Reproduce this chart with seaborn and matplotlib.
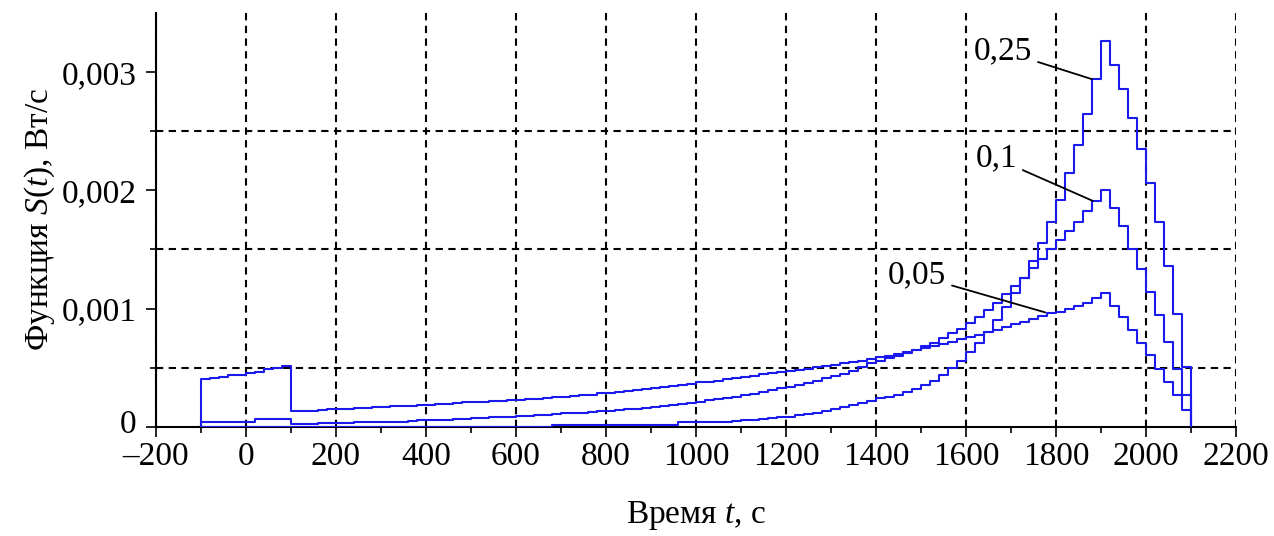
import numpy as np
import pandas as pd
import matplotlib
matplotlib.use("Agg")
import matplotlib.pyplot as plt
import matplotlib.transforms as mtransforms
import seaborn as sns
from matplotlib.ticker import FixedLocator, MultipleLocator

# ---------------- data (values in units of 0.001 W/s, 20 s bins from -100 s) ----------------
bin_start = -100
bin_width = 20

s_005 = [0.405, 0.415, 0.420, 0.435, 0.440, 0.455, 0.460, 0.487, 0.500, 0.510,
         0.133, 0.133, 0.133, 0.140, 0.150, 0.150, 0.152, 0.155, 0.160, 0.167,
         0.170, 0.172, 0.175, 0.178, 0.185, 0.187, 0.190, 0.195, 0.202, 0.205,
         0.208, 0.212, 0.218, 0.221, 0.223, 0.228, 0.232, 0.235, 0.245, 0.249,
         0.252, 0.258, 0.266, 0.270, 0.285, 0.289, 0.292, 0.300, 0.310, 0.318,
         0.326, 0.335, 0.345, 0.355, 0.365, 0.374, 0.382, 0.390, 0.400, 0.410,
         0.420, 0.430, 0.442, 0.452, 0.462, 0.473, 0.482, 0.492, 0.503, 0.514,
         0.524, 0.536, 0.548, 0.560, 0.573, 0.586, 0.600, 0.615, 0.630, 0.650,
         0.670, 0.685, 0.700, 0.720, 0.740, 0.760, 0.780, 0.800, 0.820, 0.845,
         0.870, 0.890, 0.915, 0.940, 0.958, 0.969, 0.992, 1.020, 1.048, 1.091,
         1.127, 1.020, 0.929, 0.822, 0.708, 0.609, 0.487, 0.382, 0.269, 0.142]

s_01 = [0.042, 0.042, 0.042, 0.042, 0.042, 0.042, 0.065, 0.065, 0.065, 0.065,
        0.023, 0.023, 0.023, 0.034, 0.034, 0.035, 0.035, 0.036, 0.036, 0.037,
        0.038, 0.040, 0.042, 0.045, 0.055, 0.057, 0.058, 0.060, 0.063, 0.066,
        0.070, 0.076, 0.078, 0.080, 0.085, 0.091, 0.093, 0.096, 0.100, 0.106,
        0.113, 0.116, 0.120, 0.126, 0.133, 0.136, 0.140, 0.147, 0.152, 0.158,
        0.165, 0.172, 0.180, 0.190, 0.200, 0.212, 0.222, 0.233, 0.244, 0.255,
        0.267, 0.280, 0.295, 0.310, 0.325, 0.340, 0.355, 0.372, 0.390, 0.408,
        0.425, 0.450, 0.475, 0.505, 0.535, 0.560, 0.580, 0.600, 0.620, 0.650,
        0.680, 0.710, 0.750, 0.790, 0.830, 0.880, 0.930, 0.990, 1.050, 1.120,
        1.190, 1.260, 1.340, 1.416, 1.501, 1.581, 1.657, 1.734, 1.827, 1.907,
        2.006, 1.850, 1.694, 1.507, 1.337, 1.139, 0.941, 0.714, 0.487, 0.269]

s_025 = [0.0, 0.0, 0.0, 0.0, 0.0, 0.0, 0.0, 0.0, 0.0, 0.0,
         0.0, 0.0, 0.0, 0.0, 0.0, 0.0, 0.0, 0.0, 0.0, 0.0,
         0.0, 0.0, 0.0, 0.0, 0.0, 0.0, 0.0, 0.0, 0.0, 0.0,
         0.0, 0.0, 0.0, 0.0, 0.0, 0.0, 0.0, 0.0, 0.0, 0.012,
         0.013, 0.013, 0.014, 0.014, 0.015, 0.015, 0.015, 0.016, 0.016, 0.017,
         0.017, 0.018, 0.018, 0.037, 0.037, 0.037, 0.037, 0.037, 0.037, 0.050,
         0.055, 0.060, 0.065, 0.070, 0.078, 0.085, 0.095, 0.105, 0.118, 0.132,
         0.147, 0.163, 0.180, 0.200, 0.220, 0.240, 0.255, 0.270, 0.290, 0.315,
         0.350, 0.390, 0.440, 0.500, 0.560, 0.630, 0.710, 0.800, 0.900, 1.010,
         1.130, 1.260, 1.400, 1.558, 1.728, 1.921, 2.144, 2.380, 2.646, 2.938,
         3.266, 3.059, 2.853, 2.615, 2.346, 2.062, 1.734, 1.360, 0.955, 0.507]

series_labels = ["0,05", "0,1", "0,25"]
series_values = [s_005, s_01, s_025]

x_ticks = [-200, 0, 200, 400, 600, 800, 1000, 1200, 1400, 1600, 1800, 2000, 2200]
x_tick_labels = ["\u2013200", "0", "200", "400", "600", "800", "1000", "1200",
                 "1400", "1600", "1800", "2000", "2200"]
y_ticks = [0, 0.001, 0.002, 0.003]
y_tick_labels = ["0", "0,001", "0,002", "0,003"]

# label placement (text position, leader end) in data coordinates
label_text_pos = {"0,25": (1682, 0.00318), "0,1": (1667, 0.00227), "0,05": (1491, 0.00128)}
label_point = {"0,25": (1880, 0.00294), "0,1": (1882, 0.00191), "0,05": (1776, 0.000967)}

# ---------------- build long-form table ----------------
frames = []
for name, vals in zip(series_labels, series_values):
    vals = np.asarray(vals)
    n = len(vals)
    edges = bin_start + bin_width * np.arange(n + 1)
    xs = np.concatenate([[edges[0]], edges[:-1], [edges[-1], edges[-1]]])
    ys = np.concatenate([[0.0], vals, [vals[-1], 0.0]]) * 1e-3
    frames.append(pd.DataFrame({"t": xs, "S": ys, "series": name}))
df = pd.concat(frames, ignore_index=True)

# ---------------- style ----------------
sns.set_theme(style="ticks")
plt.rcParams["font.family"] = ["Liberation Serif", "DejaVu Serif"]
plt.rcParams["mathtext.fontset"] = "custom"
plt.rcParams["mathtext.rm"] = "Liberation Serif"
plt.rcParams["mathtext.it"] = "Liberation Serif:italic"

W, H = 1274, 536
fig = plt.figure(figsize=(W / 100, H / 100), dpi=100)
ax = fig.add_axes([156 / W, (H - 426.7) / H, (1236 - 156) / W, (426.7 - 13) / H])

blue = "#1a1aee"
sns.lineplot(data=df, x="t", y="S", hue="series", palette=[blue] * 3,
             estimator=None, sort=False, drawstyle="steps-post",
             legend=False, linewidth=1.5, ax=ax, zorder=3)

ax.set_xlim(-200, 2200)
ax.set_ylim(0, 0.0035)

ax.xaxis.set_major_locator(FixedLocator(x_ticks))
ax.set_xticklabels(x_tick_labels)
ax.xaxis.set_minor_locator(MultipleLocator(100))
ax.yaxis.set_major_locator(FixedLocator(y_ticks))
ax.set_yticklabels(y_tick_labels)
ax.yaxis.set_minor_locator(FixedLocator([0.0005, 0.0015, 0.0025]))

ax.tick_params(axis="both", which="major", direction="out", length=7, width=1.2,
               colors="black", labelsize=24)
ax.tick_params(axis="both", which="minor", direction="out", length=4, width=1.2,
               colors="black")
ax.tick_params(axis="x", which="major", pad=4)
ax.tick_params(axis="y", which="major", pad=7)
# nudge the "0" on the y axis up a little so it clears the "–200" below it
zero_lbl = ax.get_yticklabels()[0]
zero_lbl.set_transform(zero_lbl.get_transform()
                       + mtransforms.ScaledTranslation(0, 4 / 72, fig.dpi_scale_trans))

grid_kw = dict(color="black", linewidth=1.5, linestyle=(0, (3.5, 2.6)))
ax.grid(True, which="major", axis="x", **grid_kw)
ax.grid(True, which="minor", axis="y", **grid_kw)
ax.grid(False, which="major", axis="y")

for side in ["top", "right"]:
    ax.spines[side].set_visible(False)
for side in ["left", "bottom"]:
    ax.spines[side].set_color("black")
    ax.spines[side].set_linewidth(1.5)

ax.set_xlabel("Время $t$, с", fontsize=24, color="black")
ax.set_ylabel("Функция $S(t)$, Вт/с", fontsize=24, color="black")
ax.xaxis.set_label_coords(0.5, -0.175)
ax.yaxis.set_label_coords(-0.092, 0.5)

for name in series_labels:
    ax.annotate(name, xy=label_point[name], xytext=label_text_pos[name],
                ha="center", va="center", fontsize=24, color="black",
                arrowprops=dict(arrowstyle="-", color="black", lw=1.3,
                                shrinkA=2, shrinkB=0),
                zorder=4)

fig.savefig("out.png", dpi=100, facecolor="white")
